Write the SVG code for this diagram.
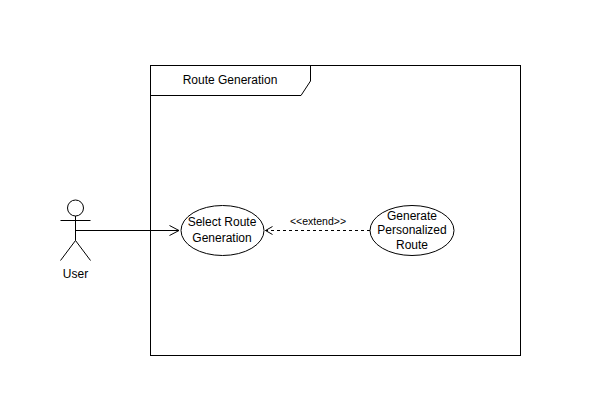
<svg xmlns="http://www.w3.org/2000/svg" width="590" height="408" viewBox="0 0 590 408">
<style>
.s{fill:none;stroke:#000;stroke-width:1}
.e{fill:#fff;stroke:#000;stroke-width:1}
text{font-family:"Liberation Sans",Arial,sans-serif;font-size:12px;fill:#000;text-anchor:middle}
</style>
<defs>
<marker id="open" markerUnits="userSpaceOnUse" markerWidth="14" markerHeight="14" refX="12" refY="7" orient="auto" overflow="visible">
<path d="M2.500 2L12 7L2.500 12" fill="none" stroke="#000"/>
</marker>
<marker id="open-small" markerUnits="userSpaceOnUse" markerWidth="14" markerHeight="14" refX="12" refY="7" orient="auto" overflow="visible">
<path d="M5 3L12 7L5 11" fill="none" stroke="#000"/>
</marker>
</defs>
<rect width="590" height="408" fill="#fff"/>
<g id="frame">
<rect class="s" x="150.500" y="65.500" width="370" height="290"/>
<path class="s" d="M150.500 95.500H301L310.500 81V65.500"/>
<text x="230" y="84">Route Generation</text>
</g>
<g id="connectors">
<path class="s" d="M75.500 230.500H179" marker-end="url(#open)"/>
<path class="s" d="M370 230.500H265.500" stroke-dasharray="3 3" marker-end="url(#open-small)"/>
<text x="318" y="224.500" style="font-size:10.500px">&lt;&lt;extend&gt;&gt;</text>
</g>
<g id="user">
<circle class="s" cx="75.500" cy="208" r="8"/>
<path class="s" d="M75.500 216V240.500M60.500 220.500H90.500M75.500 240.500L60.500 260.500M75.500 240.500L90.500 260.500"/>
<text x="75.500" y="278">User</text>
</g>
<g id="select-route">
<ellipse class="e" cx="222.500" cy="230.500" rx="41.500" ry="25"/>
<text x="222" y="226">Select Route</text>
<text x="222" y="242">Generation</text>
</g>
<g id="generate-route">
<ellipse class="e" cx="412" cy="230.500" rx="42" ry="25"/>
<text x="412" y="220">Generate</text>
<text x="412" y="234">Personalized</text>
<text x="412" y="249">Route</text>
</g>
</svg>
